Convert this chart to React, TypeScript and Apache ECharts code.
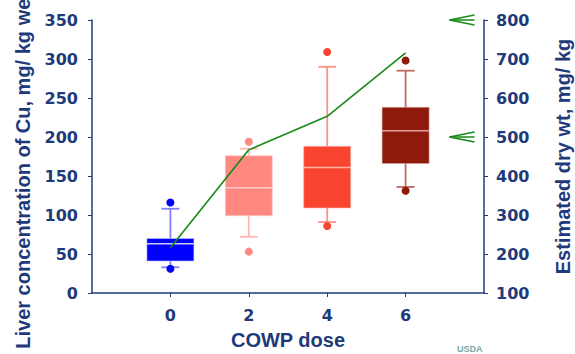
import { useEffect, useRef } from 'react';
import * as echarts from 'echarts';

// ---- data ----
const doses = [0, 2, 4, 6];
const whiskerLow = [33, 72, 91, 136];
const q1 = [41, 99, 109, 166];
const median = [63, 135, 161, 208];
const q3 = [70, 176, 188, 238];
const whiskerHigh = [108, 185, 290, 285];
const outlierLow = [31, 53, 86, 131];
const outlierHigh = [116, 194, 309, 298];
const estimatedDryWt = [216, 467, 553, 716];
const arrowLevels = [800, 500];
const arrowDose = 7.12;
const xTickValues = [0, 2, 4, 6];

// ---- styles ----
const boxColors = ['#0000ff', '#ff8880', '#f94530', '#8e1a0b'];
const whiskerColors = ['#8080ff', '#ffb8b3', '#ff9282', '#c26a60'];
const medianColors = ['#c8c8ff', '#ffcdc9', '#ffb3a6', '#dba39c'];
const navy = '#1f3a7a';
const green = '#178a17';
const labelFont = 'DejaVu Sans';
const titleFont = 'Liberation Sans, Arial, sans-serif';

export default function App() {
  const ref = useRef<HTMLDivElement>(null);

  useEffect(() => {
    if (!ref.current) return;
    const chart = echarts.init(ref.current, undefined, { renderer: 'svg' });

    const boxData = doses.map((d, i) => [d, whiskerLow[i], q1[i], median[i], q3[i], whiskerHigh[i]]);
    const outliers: any[] = [];
    doses.forEach((d, i) => {
      outliers.push({ value: [d, outlierLow[i]], itemStyle: { color: boxColors[i], opacity: 1 } });
      outliers.push({ value: [d, outlierHigh[i]], itemStyle: { color: boxColors[i], opacity: 1 } });
    });

    const option: any = {
      animation: false,
      grid: { left: 92, right: 91, top: 20, bottom: 61, containLabel: false, outerBoundsMode: 'none' },
      xAxis: {
        type: 'value',
        min: -2,
        max: 8,
        interval: 2,
        splitLine: { show: false },
        axisLine: { show: true, onZero: false, lineStyle: { color: navy, width: 1.5 } },
        axisTick: { show: true, length: 4, lineStyle: { color: navy }, customValues: xTickValues },
        axisLabel: {
          customValues: xTickValues,
          formatter: (v: number) => (xTickValues.includes(v) ? String(v) : ''),
          color: navy,
          fontFamily: labelFont,
          fontWeight: 'bold',
          fontSize: 16,
          margin: 14,
        },
        name: 'COWP dose',
        nameLocation: 'middle',
        nameGap: 37,
        nameTextStyle: { color: navy, fontFamily: titleFont, fontWeight: 'bold', fontSize: 20 },
      },
      yAxis: [
        {
          type: 'value',
          min: 0,
          max: 350,
          interval: 50,
          position: 'left',
          splitLine: { show: false },
          axisLine: { show: true, onZero: false, lineStyle: { color: navy, width: 1.5 } },
          axisTick: { show: true, length: 4, lineStyle: { color: navy } },
          axisLabel: { color: navy, fontFamily: labelFont, fontWeight: 'bold', fontSize: 16, margin: 14 },
          name: 'Liver concentration of Cu, mg/ kg wet wt',
          nameLocation: 'middle',
          nameGap: 59,
          nameTextStyle: { color: navy, fontFamily: titleFont, fontWeight: 'bold', fontSize: 20 },
        },
        {
          type: 'value',
          min: 100,
          max: 800,
          interval: 100,
          position: 'right',
          splitLine: { show: false },
          axisLine: { show: true, onZero: false, lineStyle: { color: navy, width: 1.5 } },
          axisTick: { show: true, length: 4, lineStyle: { color: navy } },
          axisLabel: { color: navy, fontFamily: labelFont, fontWeight: 'bold', fontSize: 16, margin: 12 },
          name: 'Estimated dry wt, mg/ kg',
          nameLocation: 'middle',
          nameGap: 69,
          nameTextStyle: { color: navy, fontFamily: titleFont, fontWeight: 'bold', fontSize: 20 },
        },
      ],
      series: [
        {
          type: 'custom',
          xAxisIndex: 0,
          yAxisIndex: 0,
          z: 2,
          data: boxData,
          renderItem: (params: any, api: any) => {
            const i = params.dataIndex;
            const x = api.value(0);
            const lo = api.coord([x, api.value(1)]);
            const b1 = api.coord([x, api.value(2)]);
            const md = api.coord([x, api.value(3)]);
            const b3 = api.coord([x, api.value(4)]);
            const hi = api.coord([x, api.value(5)]);
            const cx = lo[0];
            const halfBox = 23.5;
            const halfCap = 9;
            const wStyle = { stroke: whiskerColors[i], lineWidth: 1.8 };
            return {
              type: 'group',
              children: [
                { type: 'line', shape: { x1: cx, y1: hi[1], x2: cx, y2: b3[1] }, style: wStyle },
                { type: 'line', shape: { x1: cx, y1: b1[1], x2: cx, y2: lo[1] }, style: wStyle },
                { type: 'line', shape: { x1: cx - halfCap, y1: hi[1], x2: cx + halfCap, y2: hi[1] }, style: wStyle },
                { type: 'line', shape: { x1: cx - halfCap, y1: lo[1], x2: cx + halfCap, y2: lo[1] }, style: wStyle },
                {
                  type: 'rect',
                  shape: { x: cx - halfBox, y: b3[1], width: halfBox * 2, height: b1[1] - b3[1] },
                  style: { fill: boxColors[i], stroke: medianColors[i], lineWidth: 0.6 },
                },
                {
                  type: 'line',
                  shape: { x1: cx - halfBox, y1: md[1], x2: cx + halfBox, y2: md[1] },
                  style: { stroke: medianColors[i], lineWidth: 1.5 },
                },
              ],
            };
          },
        },
        {
          type: 'scatter',
          xAxisIndex: 0,
          yAxisIndex: 0,
          z: 3,
          symbol: 'circle',
          symbolSize: 8,
          data: outliers,
        },
        {
          type: 'line',
          xAxisIndex: 0,
          yAxisIndex: 1,
          z: 5,
          symbol: 'none',
          lineStyle: { color: green, width: 1.6 },
          data: doses.map((d, i) => [d, estimatedDryWt[i]]),
        },
      ],
    };

    chart.setOption(option);

    const arrows: any[] = [];
    arrowLevels.forEach((lv) => {
      const p = chart.convertToPixel({ xAxisIndex: 0, yAxisIndex: 1 }, [arrowDose, lv]) as number[];
      const st = { stroke: green, lineWidth: 1.5, fill: 'none' };
      arrows.push({
        type: 'polyline',
        shape: { points: [[p[0] + 25, p[1] - 5], [p[0], p[1]], [p[0] + 25, p[1] + 5]] },
        style: st,
      });
      arrows.push({ type: 'line', shape: { x1: p[0], y1: p[1], x2: p[0] + 25, y2: p[1] }, style: st });
    });
    arrows.push({
      type: 'text',
      left: 457,
      top: 344,
      style: { text: 'USDA', fill: '#7aa6a6', font: 'bold 9px Liberation Sans, Arial, sans-serif' },
    });
    chart.setOption({ graphic: arrows });

    return () => chart.dispose();
  }, []);

  return <div ref={ref} style={{ width: 575, height: 354, position: 'absolute', left: 0, top: 0 }} />;
}
